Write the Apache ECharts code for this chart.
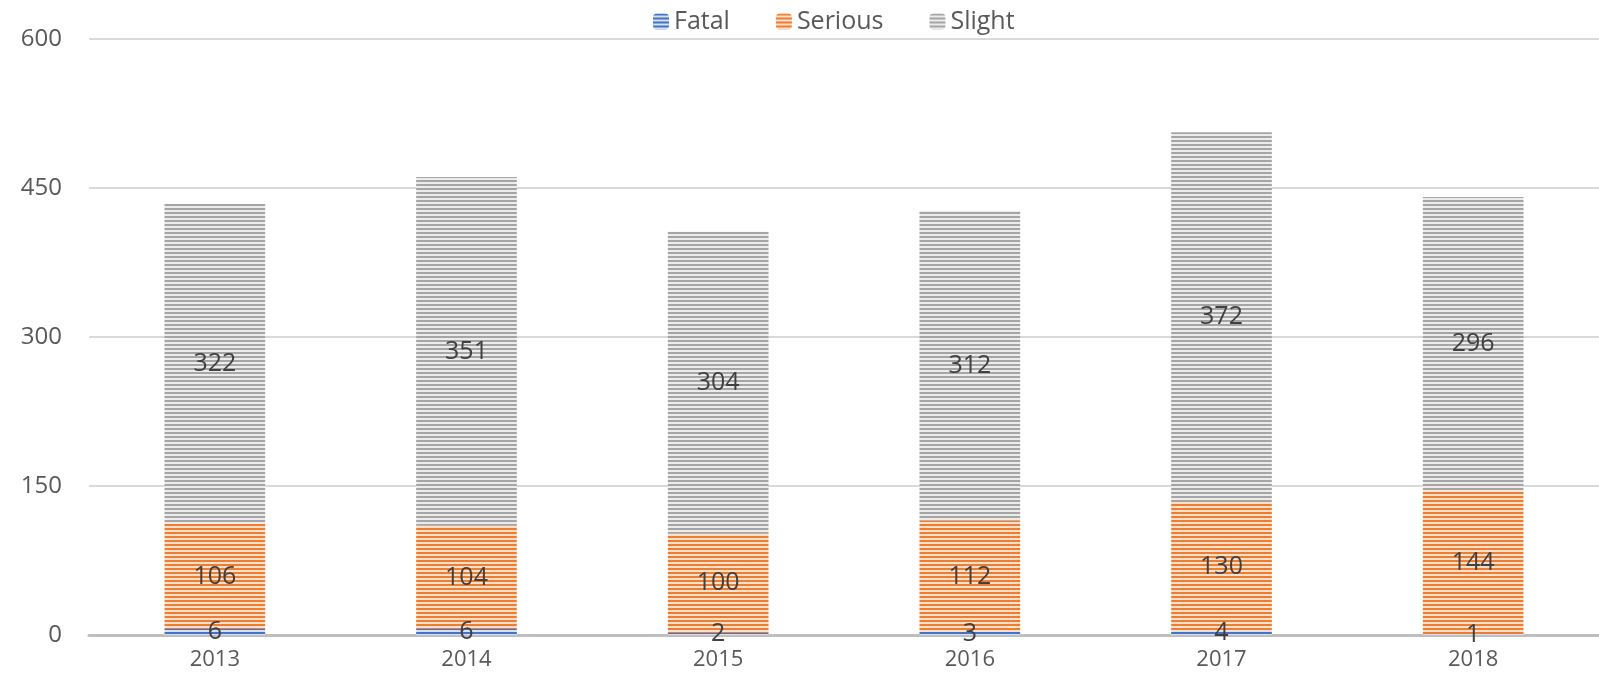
<!DOCTYPE html>
<html>
<head>
<meta charset="utf-8">
<script src="https://cdn.jsdelivr.net/npm/echarts@6/dist/echarts.min.js"></script>
<style>
  html, body { margin: 0; padding: 0; background: #fff; }
  #chart { width: 1599px; height: 687px; }
</style>
</head>
<body>
<div id="chart"></div>
<script>
  var years = ['2013', '2014', '2015', '2016', '2017', '2018']
  var fatal = [6, 6, 2, 3, 4, 1]
  var serious = [106, 104, 100, 112, 130, 144]
  var slight = [322, 351, 304, 312, 372, 296]

  // horizontal stripe fill, like the Excel pattern
  function stripes(dark, light) {
    var c = document.createElement('canvas')
    c.width = 4
    c.height = 4
    var ctx = c.getContext('2d')
    ctx.fillStyle = light
    ctx.fillRect(0, 0, 4, 4)
    ctx.fillStyle = dark
    ctx.fillRect(0, 0, 4, 2)
    return { image: c, repeat: 'repeat' }
  }

  var font = '"Open Sans", "Noto Sans", sans-serif'
  var labelStyle = {
    show: true,
    position: 'inside',
    color: '#404040',
    fontSize: 25,
    fontFamily: font
  }

  var chart = echarts.init(document.getElementById('chart'))
  chart.setOption({
    animation: false,
    legend: {
      top: 4,
      left: 648,
      itemWidth: 16,
      itemHeight: 16,
      itemGap: 46,
      textStyle: { color: '#595959', fontSize: 25, fontFamily: font },
      data: ['Fatal', 'Serious', 'Slight']
    },
    grid: { left: 89, right: 0, top: 39, bottom: 52 },
    xAxis: {
      type: 'category',
      data: years,
      axisLine: { lineStyle: { color: '#bfbfbf', width: 3 } },
      axisTick: { show: false },
      axisLabel: { color: '#595959', fontSize: 22, fontFamily: font, margin: 14 }
    },
    yAxis: {
      type: 'value',
      min: 0,
      max: 600,
      interval: 150,
      axisLine: { show: false },
      axisTick: { show: false },
      splitLine: { lineStyle: { color: '#d9d9d9', width: 2 } },
      axisLabel: { color: '#595959', fontSize: 24, fontFamily: font, margin: 27 }
    },
    series: [
      {
        name: 'Fatal',
        type: 'bar',
        stack: 'total',
        barWidth: '40%',
        data: fatal,
        itemStyle: { color: stripes('#4472c4', '#d6e0f3') },
        label: labelStyle
      },
      {
        name: 'Serious',
        type: 'bar',
        stack: 'total',
        data: serious,
        itemStyle: { color: stripes('#ed7d31', '#fbe0cc') },
        label: labelStyle
      },
      {
        name: 'Slight',
        type: 'bar',
        stack: 'total',
        data: slight,
        itemStyle: { color: stripes('#a5a5a5', '#ececec') },
        label: labelStyle
      }
    ]
  })
</script>
</body>
</html>
